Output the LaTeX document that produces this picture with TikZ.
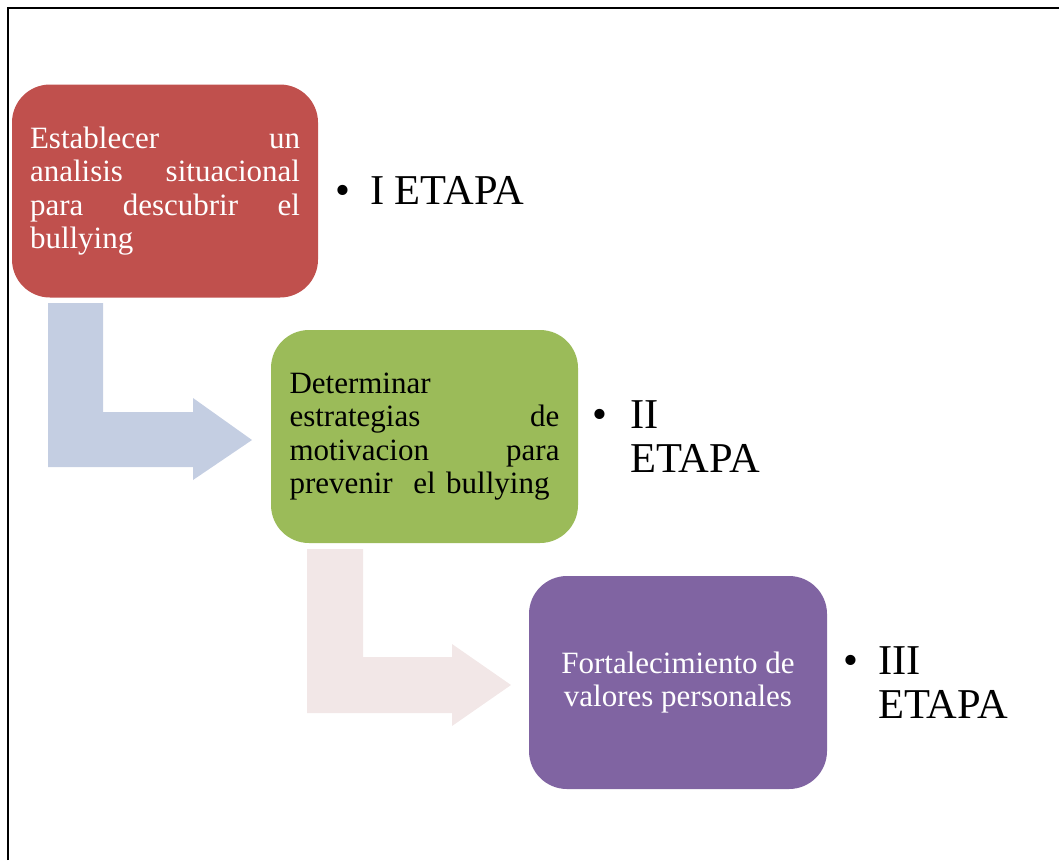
\documentclass[tikz,border=0pt]{standalone}
\usepackage{fontspec}
\setmainfont{Liberation Serif}
\definecolor{etapared}{HTML}{C0504D}
\definecolor{etapagreen}{HTML}{9BBB59}
\definecolor{etapapurple}{HTML}{8064A2}
\definecolor{flowblue}{HTML}{C4CEE2}
\definecolor{flowpink}{HTML}{F2E7E7}
\newcommand{\jline}[1]{\makebox[270pt][l]{#1}}
\begin{document}
\begin{tikzpicture}[x=1pt,y=-1pt]
        \tikzstyle{every node}+=[inner sep=0pt]
        \tikzstyle{etapabox}=[rounded corners=38pt, minimum height=213pt, font=\fontsize{31}{33.5}\selectfont]
        \tikzstyle{bulletlabel}=[font=\fontsize{42.5}{44}\selectfont]
        \useasboundingbox (0,0) rectangle (1059,860);
        \draw [black, line width=1.5pt] (8,860) -- (8,8) -- (1059,8);
        % bent arrows
        \fill [flowblue] (48,303) -- (103,303) -- (103,412) -- (193,412) -- (193,398) -- (252,440) -- (193,480) -- (193,467) -- (48,467) -- cycle;
        \fill [flowpink] (307,549) -- (363,549) -- (363,657) -- (452,657) -- (452,644) -- (511,685) -- (452,726) -- (452,713) -- (307,713) -- cycle;
        % boxes
        \node [etapabox, fill=etapared, text=white, minimum width=306pt, text width=270pt, align=left] (box1) at (165,191)
          {\jline{Establecer\hfill un}\\ \jline{analisis\hfill situacional}\\ \jline{para\hfill descubrir\hfill el}\\ bullying};
        \node [etapabox, fill=etapagreen, text=black, minimum width=307pt, text width=270pt, align=left] (box2) at (424.5,436.5)
          {Determinar\\ \jline{estrategias\hfill de}\\ \jline{motivacion\hfill para}\\ prevenir\ \ el bullying};
        \node [etapabox, fill=etapapurple, text=white, minimum width=298pt, align=center] (box3) at (678,682.5)
          {Fortalecimiento de\\ valores personales};
        % etapa labels
        \node [bulletlabel, anchor=base] (dot1) at (343,204) {\textbullet};
        \node [bulletlabel, anchor=base west] (lab1) at (370,204) {I ETAPA};
        \node [bulletlabel, anchor=base] (dot2) at (600,428) {\textbullet};
        \node [bulletlabel, anchor=north west, align=left] (lab2) at (630,400) {II\\ETAPA};
        \node [bulletlabel, anchor=base] (dot3) at (851,674) {\textbullet};
        \node [bulletlabel, anchor=north west, align=left] (lab3) at (878,646) {III\\ETAPA};
\end{tikzpicture}
\end{document}
